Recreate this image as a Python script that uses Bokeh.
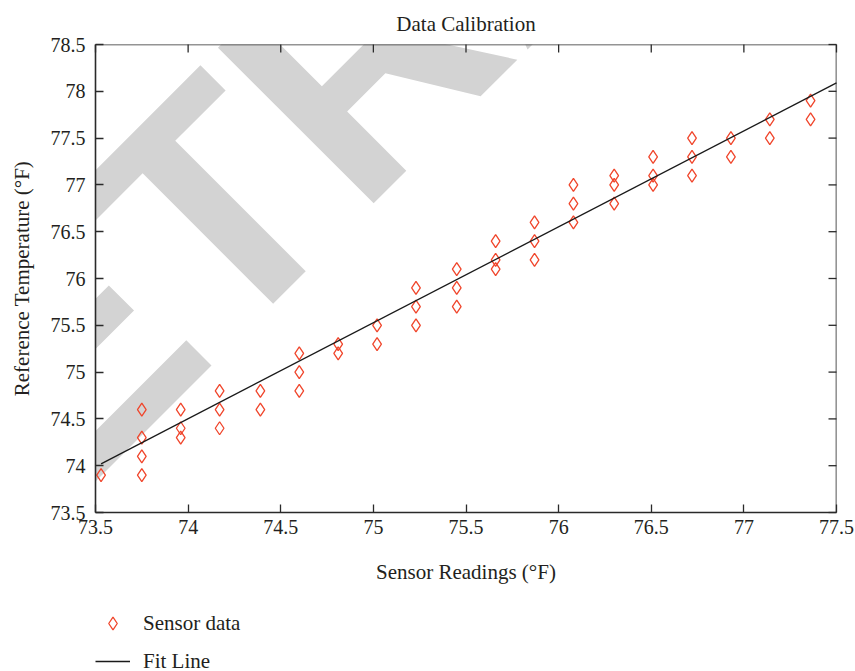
import math
from bokeh.plotting import figure
from bokeh.layouts import column
from bokeh.models import (Legend, LegendItem, Label, Range1d, FixedTicker,
                          Title, Span)
from bokeh.embed import file_html
from bokeh.resources import INLINE

# ---- data ----
sensor_x = [73.53,
            73.75, 73.75, 73.75, 73.75,
            73.96, 73.96, 73.96,
            74.17, 74.17, 74.17,
            74.39, 74.39,
            74.60, 74.60, 74.60,
            74.81, 74.81,
            75.02, 75.02,
            75.23, 75.23, 75.23,
            75.45, 75.45, 75.45,
            75.66, 75.66, 75.66,
            75.87, 75.87, 75.87,
            76.08, 76.08, 76.08,
            76.30, 76.30, 76.30,
            76.51, 76.51, 76.51,
            76.72, 76.72, 76.72,
            76.93, 76.93,
            77.14, 77.14,
            77.36, 77.36]
reference_y = [73.9,
               74.6, 74.3, 74.1, 73.9,
               74.6, 74.4, 74.3,
               74.8, 74.6, 74.4,
               74.8, 74.6,
               75.2, 75.0, 74.8,
               75.3, 75.2,
               75.5, 75.3,
               75.9, 75.7, 75.5,
               76.1, 75.9, 75.7,
               76.4, 76.2, 76.1,
               76.6, 76.4, 76.2,
               77.0, 76.8, 76.6,
               77.1, 77.0, 76.8,
               77.3, 77.1, 77.0,
               77.5, 77.3, 77.1,
               77.5, 77.3,
               77.7, 77.5,
               77.9, 77.7]
fit_x = [73.53, 77.5]
fit_y = [74.02, 78.09]

x_ticks = [73.5, 74.0, 74.5, 75.0, 75.5, 76.0, 76.5, 77.0, 77.5]
x_tick_labels = ["73.5", "74", "74.5", "75", "75.5", "76", "76.5", "77", "77.5"]
y_ticks = [73.5, 74.0, 74.5, 75.0, 75.5, 76.0, 76.5, 77.0, 77.5, 78.0, 78.5]
y_tick_labels = ["73.5", "74", "74.5", "75", "75.5", "76", "76.5", "77", "77.5", "78", "78.5"]

title_text = "Data Calibration"
x_label = "Sensor Readings (°F)"
y_label = "Reference Temperature (°F)"
series_names = ["Sensor data", "Fit Line"]
watermark = "RETRACTED"

SERIF = "Liberation Serif"
TXT = "#231f20"
AX = "#2a2a2a"
RED = "#f0452b"
FIT = "#1a1a1a"

p = figure(width=855, height=590, output_backend="svg", toolbar_location=None,
           x_range=Range1d(x_ticks[0], x_ticks[-1]),
           y_range=Range1d(y_ticks[0], y_ticks[-1]),
           min_border_left=95, min_border_right=19,
           min_border_top=43, min_border_bottom=78,
           title=None)
p.outline_line_color = None
p.xgrid.visible = False
p.ygrid.visible = False
p.background_fill_color = "white"
p.border_fill_color = "white"

# diagonal watermark, beneath the data and the axes
wm = Label(x=-268, y=-80, x_units="screen", y_units="screen",
           text=watermark, angle=45, angle_units="deg",
           text_font="Liberation Sans", text_font_style="bold",
           text_font_size="320px", text_baseline="alphabetic",
           text_align="left", text_color="#d3d3d3", level="guide")
p.add_layout(wm)

r_pts = p.scatter(sensor_x, reference_y, marker="diamond", size=13,
                  fill_color=None, line_color=RED, line_width=1.3)
r_fit = p.line(fit_x, fit_y, line_color=FIT, line_width=1.3)
r_pts.level = "annotation"
r_fit.level = "annotation"

# top and right spines with inward ticks (mirrors of the bottom/left axes)
top_spine = Span(location=y_ticks[-1], dimension="width", line_color=AX,
                 line_width=1.6, level="annotation")
right_spine = Span(location=x_ticks[-1], dimension="height", line_color=AX,
                   line_width=1.6, level="annotation")
p.add_layout(top_spine)
p.add_layout(right_spine)
r_tt = p.ray(x=x_ticks, y=[y_ticks[-1]] * len(x_ticks), length=8,
             length_units="screen", angle=-math.pi / 2,
             line_color=AX, line_width=1.3)
r_rt = p.ray(x=[x_ticks[-1]] * len(y_ticks), y=y_ticks, length=8,
             length_units="screen", angle=math.pi,
             line_color=AX, line_width=1.3)
r_tt.level = "annotation"
r_rt.level = "annotation"

def style_axis(ax, ticks, labels):
    ax.level = "annotation"
    ax.ticker = FixedTicker(ticks=ticks)
    ax.major_label_overrides = {t: l for t, l in zip(ticks, labels)}
    ax.minor_tick_line_color = None
    ax.major_tick_in = 8
    ax.major_tick_out = 0
    ax.axis_line_color = AX
    ax.axis_line_width = 1.6
    ax.major_tick_line_color = AX
    ax.major_tick_line_width = 1.3
    ax.major_label_text_font = SERIF
    ax.major_label_text_color = TXT
    ax.major_label_text_font_size = "20px"
    ax.axis_label_text_font = SERIF
    ax.axis_label_text_font_size = "21px"
    ax.axis_label_text_font_style = "normal"
    ax.axis_label_text_color = TXT

xa = p.xaxis[0]
style_axis(xa, x_ticks, x_tick_labels)
xa.major_label_standoff = 7
xa.axis_label = x_label
xa.axis_label_standoff = 23

ya = p.yaxis[0]
style_axis(ya, y_ticks, y_tick_labels)
ya.major_label_standoff = 10
ya.axis_label = y_label
ya.axis_label_standoff = 14

t = Title(text=title_text, align="center", text_font=SERIF,
          text_font_size="21px", text_font_style="normal", text_color=TXT,
          standoff=18)
p.add_layout(t, "above")

# ---- legend strip under the chart ----
# same series, drawn out of this strip's view so only the legend shows
pl = figure(width=855, height=81, output_backend="svg", toolbar_location=None,
            x_range=Range1d(x_ticks[0], x_ticks[-1]),
            y_range=Range1d(0, 1),
            min_border_left=95, min_border_right=19,
            min_border_top=17, min_border_bottom=0, title=None)
pl.axis.visible = False
pl.xgrid.visible = False
pl.ygrid.visible = False
pl.outline_line_color = None
pl.background_fill_color = "white"
pl.border_fill_color = "white"
lg_pts = pl.scatter(sensor_x, reference_y, marker="diamond", size=13,
                    fill_color=None, line_color=RED, line_width=1.3)
lg_fit = pl.line(fit_x, fit_y, line_color=FIT, line_width=1.3)
legend = Legend(items=[LegendItem(label=series_names[0], renderers=[lg_pts]),
                       LegendItem(label=series_names[1], renderers=[lg_fit])],
                location="top_left", orientation="vertical",
                border_line_color=None, background_fill_alpha=0,
                padding=0, margin=0, glyph_width=35, glyph_height=32,
                label_height=24, label_standoff=13, spacing=6,
                label_text_font=SERIF, label_text_font_size="21px",
                label_text_color=TXT)
pl.add_layout(legend, "center")

page = column(p, pl, spacing=0)
open("out.html", "w").write(file_html(page, INLINE))
